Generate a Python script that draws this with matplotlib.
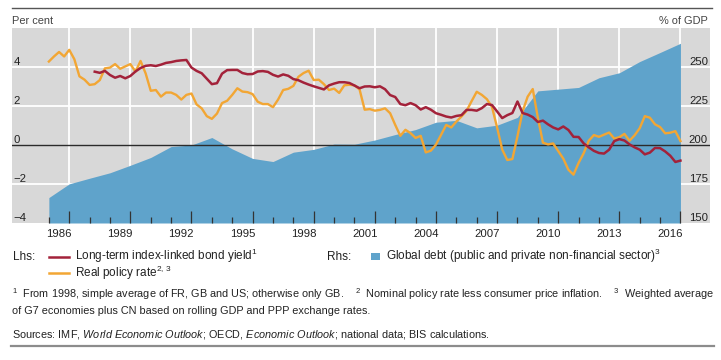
import numpy as np
import matplotlib
matplotlib.use("Agg")
import matplotlib.pyplot as plt
from matplotlib.lines import Line2D
from matplotlib.patches import Rectangle

plt.rcParams['font.family'] = ['Liberation Sans', 'DejaVu Sans']
plt.rcParams['mathtext.fontset'] = 'custom'
plt.rcParams['mathtext.rm'] = 'Liberation Sans'
plt.rcParams['mathtext.it'] = 'Liberation Sans:italic'
plt.rcParams['mathtext.bf'] = 'Liberation Sans:bold'

# ---------------- data ----------------
debt_years = list(range(1986, 2018))
global_debt = [166.3, 175.1, 178.7, 182.2, 187.0, 192.0, 199.0, 200.0, 204.8, 197.5,
               191.4, 189.4, 195.4, 197.2, 200.6, 200.5, 203.2, 206.7, 209.9, 214.6,
               215.8, 211.0, 212.7, 217.7, 234.7, 235.8, 236.9, 243.1, 246.3, 253.5,
               259.3, 265.2]

policy_start = 1986.0
real_policy_rate = [
    4.28, 4.54, 4.77, 4.54, 4.88, 4.40, 3.52, 3.35, 3.08, 3.12, 3.33, 3.93,
    3.97, 4.15, 3.91, 4.03, 4.15, 3.76, 4.31, 3.67, 2.78, 2.82, 2.48, 2.69,
    2.69, 2.57, 2.33, 2.57, 2.64, 2.08, 1.88, 1.48, 1.34, 1.61, 2.15, 2.27,
    2.57, 2.91, 2.74, 2.71, 2.61, 2.22, 2.10, 2.10, 1.94, 2.33, 2.82, 2.88,
    3.03, 3.50, 3.69, 3.81, 3.33, 3.35, 3.12, 2.82, 2.89, 2.67, 3.06, 3.09,
    3.06, 2.85, 1.81, 1.84, 1.76, 1.80, 1.88, 1.63, 1.03, 0.47, 0.78, 0.61,
    0.36, 0.47, -0.38, -0.29, 0.02, 0.52, 1.03, 0.90, 1.20, 1.46, 1.75, 2.25,
    2.73, 2.57, 2.35, 1.95, 0.90, -0.23, -0.77, -0.72, 0.45, 1.72, 2.48, 2.87,
    1.40, 0.12, 0.03, 0.08, -0.31, -0.70, -1.27, -1.52, -0.92, -0.42, 0.22, 0.51,
    0.42, 0.53, 0.64, 0.33, 0.40, 0.57, 0.22, 0.50, 0.86, 1.48, 1.40, 1.06,
    0.92, 0.60, 0.63, 0.71, 0.20]

bond_start = 1988.25
bond_yield = [
    3.76, 3.70, 3.80,
    3.59, 3.45, 3.54, 3.42, 3.54, 3.77, 3.95, 4.06, 4.09, 4.05, 4.12, 4.21,
    4.25, 4.31, 4.34, 4.36, 3.97, 3.80, 3.68, 3.40, 3.12, 3.17, 3.66, 3.84,
    3.85, 3.85, 3.69, 3.63, 3.64, 3.77, 3.79, 3.75, 3.60, 3.51, 3.62, 3.55,
    3.38, 3.32, 3.20, 3.10, 3.01, 2.93, 2.85, 3.06, 3.15, 3.22, 3.22, 3.18,
    3.05, 2.91, 3.00, 3.01, 2.96, 3.01, 2.86, 2.56, 2.46, 2.10, 2.04, 2.15,
    2.04, 1.82, 1.94, 1.81, 1.63, 1.55, 1.46, 1.41, 1.49, 1.53, 1.80, 1.80,
    1.76, 1.89, 2.10, 2.05, 1.72, 1.38, 1.53, 1.64, 2.23, 1.64, 1.56, 1.43,
    1.18, 1.25, 1.06, 0.90, 0.80, 0.95, 0.77, 0.42, 0.41, 0.08, -0.12, -0.30,
    -0.41, -0.44, -0.24, 0.20, 0.30, 0.23, 0.03, -0.12, -0.24, -0.48, -0.39, -0.15,
    -0.16, -0.33, -0.55, -0.87, -0.80]

label_years = list(range(1986, 2017, 3))
left_ticks = [-4, -2, 0, 2, 4]
right_ticks = [150, 175, 200, 225, 250]

# ---------------- style ----------------
GREY = '#d8d8d8'
BLUE = '#5fa3cb'
RED = '#a3223a'
YELLOW = '#f2a634'
TXT = '#222222'

W, H = 721, 360
fig = plt.figure(figsize=(W / 100, H / 100), dpi=100)
fx = lambda p: p / W
fy = lambda p: 1 - p / H

ax = fig.add_axes([fx(12), fy(223), (710 - 12) / W, (223 - 28) / H])
ax2 = ax.twinx()
ax.set_zorder(2)
ax2.set_zorder(1)
ax.patch.set_visible(False)
ax2.patch.set_visible(True)
ax2.patch.set_facecolor(GREY)

ax.set_xlim(1984.19, 2018.45)
ax.set_ylim(-4, 6)
ax2.set_ylim(150, 275)

for a in (ax, ax2):
    for s in a.spines.values():
        s.set_visible(False)

# gridlines (under the area)
for v in [175, 225, 250]:
    ax2.axhline(v, color='white', lw=1.3, zorder=0.5)
for yr in range(1987, 2018, 3):
    ax2.axvline(yr, color='white', lw=1.3, zorder=0.5)

ax2.fill_between(debt_years, 150, global_debt, color=BLUE, lw=0, zorder=1)

ax.axhline(0, color='#2b2b2b', lw=1.0, zorder=2)
xp = policy_start + 0.25 * np.arange(len(real_policy_rate))
xb = bond_start + 0.25 * np.arange(len(bond_yield))
ax.plot(xp, real_policy_rate, color=YELLOW, lw=1.7, zorder=3, solid_joinstyle='round')
ax.plot(xb, bond_yield, color=RED, lw=1.8, zorder=4, solid_joinstyle='round')

# y ticks
ax.set_yticks(left_ticks)
ax.set_yticklabels([f"{v}".replace('-', '\u2212') for v in left_ticks])
ax.tick_params(axis='y', length=0, pad=-1, labelsize=8.2, labelcolor=TXT)
for lab in ax.get_yticklabels():
    lab.set_horizontalalignment('left')
    lab.set_verticalalignment('bottom')

ax2.set_yticks(right_ticks)
ax2.tick_params(axis='y', length=0, pad=-1.5, labelsize=8.2, labelcolor=TXT)
for lab in ax2.get_yticklabels():
    lab.set_horizontalalignment('right')
    lab.set_verticalalignment('bottom')

# x ticks
ax.xaxis.set_ticks_position('bottom')
ax.set_xticks(list(range(1987, 2018, 3)))
ax.set_xticks(list(range(1986, 2018)), minor=True)
ax.tick_params(axis='x', which='major', direction='in', length=8.8, width=0.9,
               color='#333333', labelbottom=False)
ax.tick_params(axis='x', which='minor', direction='in', length=4.4, width=0.9,
               color='#333333', labelbottom=False)
sec = ax.secondary_xaxis('bottom')
sec.set_xticks([y + 0.5 for y in label_years], labels=[str(y) for y in label_years])
sec.tick_params(length=0, pad=4.5, labelsize=8.2, labelcolor=TXT)
for s in sec.spines.values():
    s.set_visible(False)

# axis titles
fig.text(fx(12), fy(21), 'Per cent', ha='left', va='center', fontsize=7.9, color='#444444')
fig.text(fx(708), fy(21), '% of GDP', ha='right', va='center', fontsize=7.9, color='#444444')

# rules
fig.add_artist(Line2D([fx(12), fx(712)], [fy(8), fy(8)], color='#555555', lw=1.0))
fig.add_artist(Line2D([fx(11), fx(714)], [fy(346), fy(346)], color='#8c8c8c', lw=1.6))

# legend
LS = 8.5
fig.text(fx(13), fy(260), 'Lhs:', ha='left', va='baseline', fontsize=LS, color=TXT)
fig.add_artist(Line2D([fx(48.5), fx(69.3)], [fy(256.7), fy(256.7)], color=RED, lw=1.8))
fig.text(fx(75.3), fy(260), 'Long-term index-linked bond yield$^{1}$', ha='left',
         va='baseline', fontsize=LS, color=TXT)
fig.add_artist(Line2D([fx(48.5), fx(69.3)], [fy(272.7), fy(272.7)], color=YELLOW, lw=1.8))
fig.text(fx(75.3), fy(276.5), 'Real policy rate$^{2,\\,3}$', ha='left',
         va='baseline', fontsize=LS, color=TXT)
fig.text(fx(327), fy(260), 'Rhs:', ha='left', va='baseline', fontsize=LS, color=TXT)
fig.add_artist(Rectangle((fx(371), fy(260)), 9 / W, 7 / H, transform=fig.transFigure,
                         facecolor=BLUE, edgecolor='none'))
fig.text(fx(386), fy(260), 'Global debt (public and private non-financial sector)$^{3}$',
         ha='left', va='baseline', fontsize=LS, color=TXT)

# footnotes
fn1 = fig.text(fx(11.5), fy(298.5),
               '$^{1}$  From 1998, simple average of FR, GB and US; otherwise only GB.    '
               '$^{2}$  Nominal policy rate less consumer price inflation.    '
               '$^{3}$  Weighted average', ha='left', va='baseline', fontsize=7.0, color=TXT)
r = fig.canvas.get_renderer()
w = fn1.get_window_extent(r).width
fs = 7.0 * 703 / w
fn1.set_fontsize(fs)
fig.text(fx(11.5), fy(314.5), 'of G7 economies plus CN based on rolling GDP and PPP exchange rates.',
         ha='left', va='baseline', fontsize=fs, color=TXT)
fig.text(fx(11.5), fy(337.5),
         r'Sources: IMF, $\mathit{World\ Economic\ Outlook}$; OECD, $\mathit{Economic\ Outlook}$; '
         'national data; BIS calculations.', ha='left', va='baseline', fontsize=fs, color=TXT)

fig.savefig('out.png', dpi=100)
